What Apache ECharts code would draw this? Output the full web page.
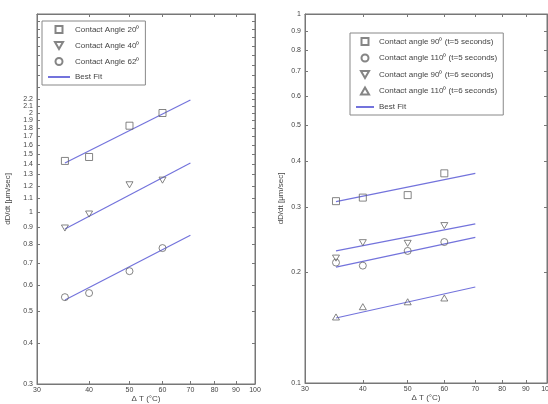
<!DOCTYPE html>
<html>
<head>
<meta charset="utf-8">
<script src="https://cdn.jsdelivr.net/npm/echarts@6/dist/echarts.min.js"></script>
<style>html,body{margin:0;padding:0;background:#fff}#c{width:548px;height:404px}</style>
</head>
<body>
<div id="c"></div>
<script>
// ---- data ----
const deltaT = [35, 40, 50, 60];
const fitT = [35, 70];
const xTickLabels = [30, 40, 50, 60, 70, 80, 90, 100];

// left panel
const leftYLabels = [0.3,0.4,0.5,0.6,0.7,0.8,0.9,1,1.1,1.2,1.3,1.4,1.5,1.6,1.7,1.8,1.9,2,2.1,2.2,2.3];
const leftYTicks = [0.3,0.4,0.5,0.6,0.7,0.8,0.9,1,1.1,1.2,1.3,1.4,1.5,1.6,1.7,1.8,1.9,2,2.1,2.2,2.3,2.4,2.6,2.8,3,3.2,3.4,3.6,3.8,4];
const angle20 = [1.43, 1.47, 1.83, 2.0];
const fit20 = [1.41, 2.19];
const angle40 = [0.894, 0.986, 1.21, 1.25];
const fit40 = [0.888, 1.41];
const angle62 = [0.551, 0.567, 0.661, 0.777];
const fit62 = [0.54, 0.85];

// right panel
const rightYLabels = [0.1,0.2,0.3,0.4,0.5,0.6,0.7,0.8,0.9,1];
const a90t5 = [0.311, 0.318, 0.323, 0.370];
const fit90t5 = [0.310, 0.370];
const a110t5 = [0.212, 0.208, 0.228, 0.241];
const fit110t5 = [0.206, 0.248];
const a90t6 = [0.218, 0.240, 0.239, 0.267];
const fit90t6 = [0.228, 0.270];
const a110t6 = [0.151, 0.161, 0.166, 0.170];
const fit110t6 = [0.150, 0.182];

const leftNames = ['Contact Angle 20⁰', 'Contact Angle 40⁰', 'Contact Angle 62⁰', 'Best Fit'];
const rightNames = ['Contact angle 90⁰ (t=5 seconds)', 'Contact angle 110⁰ (t=5 seconds)', 'Contact angle 90⁰ (t=6 seconds)', 'Contact angle 110⁰ (t=6 seconds)', 'Best Fit'];

// ---- chart ----
const FONT = 'Liberation Sans, Arial, sans-serif';
const TXT = '#444';
const AX = '#777';
const LINE = '#7373dc';
const MK = '#666';
const TRI_DOWN = 'path://M0,0L10,0L5,8.66Z';
const TRI_UP = 'path://M5,0L10,8.66L0,8.66Z';
const SQUARE = 'path://M0,0L10,0L10,10L0,10Z';

function fmt(v) { return String(parseFloat(Number(v).toPrecision(6))); }
function pts(xs, ys) { return xs.map((x, i) => [x, ys[i]]); }

function xAx(grid, pos, show) {
  return {
    type: 'log', logBase: 10, gridIndex: grid, min: 30, max: 100, position: pos,
    name: show ? 'Δ T (°C)' : '', nameLocation: 'middle', nameGap: 11, nameMoveOverlap: false,
    nameTextStyle: { fontSize: 8, color: TXT, fontFamily: FONT, verticalAlign: 'top' },
    axisLine: { show: true, onZero: false, lineStyle: { color: AX } },
    axisTick: { show: true, inside: true, length: 3, customValues: xTickLabels, lineStyle: { color: AX } },
    axisLabel: { show: show, customValues: xTickLabels, formatter: fmt, fontSize: 7, color: TXT, fontFamily: FONT, margin: 3 },
    splitLine: { show: false }, minorTick: { show: false }
  };
}
function yAx(grid, min, max, pos, show, labels, ticks, gap) {
  return {
    type: 'log', logBase: 10, gridIndex: grid, min: min, max: max, position: pos,
    name: show ? 'dD/dt [μm/sec]' : '', nameLocation: 'middle', nameGap: gap || 25, nameMoveOverlap: false,
    nameTextStyle: { fontSize: 8, color: TXT, fontFamily: FONT },
    axisLine: { show: true, onZero: false, lineStyle: { color: AX } },
    axisTick: { show: true, inside: true, length: 3, customValues: ticks, lineStyle: { color: AX } },
    axisLabel: { show: show, customValues: labels, formatter: fmt, fontSize: 7, color: TXT, fontFamily: FONT, margin: 4, hideOverlap: false },
    splitLine: { show: false }, minorTick: { show: false }
  };
}

function scatter(name, xi, yi, data, symbol) {
  return {
    type: 'scatter', name: name, xAxisIndex: xi, yAxisIndex: yi, data: data,
    symbol: symbol, symbolSize: 7, symbolKeepAspect: true,
    itemStyle: { color: 'rgba(255,255,255,0)', borderColor: MK, borderWidth: 1 },
    z: 3
  };
}
function fit(xi, yi, data) {
  return {
    type: 'line', name: 'Best Fit', xAxisIndex: xi, yAxisIndex: yi, data: data,
    showSymbol: false, symbol: 'none', lineStyle: { color: LINE, width: 1.2 }, itemStyle: { color: LINE },
    z: 2
  };
}

function legendData(names) {
  return names.map(n => n === 'Best Fit'
    ? { name: n, itemStyle: { color: 'rgba(0,0,0,0)', borderWidth: 0, opacity: 0 } }
    : { name: n });
}

const legendBase = {
  orient: 'vertical', itemHeight: 7, itemGap: 7,
  textStyle: { fontSize: 8, color: TXT, fontFamily: FONT },
  borderColor: '#888', borderWidth: 1, backgroundColor: '#fff', padding: [4, 6, 4, 5],
  selectedMode: false, symbolKeepAspect: true
};

const option = {
  animation: false,
  backgroundColor: '#fff',
  grid: [
    { left: 37, top: 14, width: 218, height: 370, show: true, borderColor: AX, borderWidth: 1, backgroundColor: '#fff', outerBoundsMode: 'none', containLabel: false },
    { left: 305, top: 14, width: 242, height: 369, show: true, borderColor: AX, borderWidth: 1, backgroundColor: '#fff', outerBoundsMode: 'none', containLabel: false }
  ],
  xAxis: [
    xAx(0, 'bottom', true),
    xAx(0, 'top', false),
    xAx(1, 'bottom', true),
    xAx(1, 'top', false)
  ],
  yAxis: [
    yAx(0, 0.3, 4, 'left', true, leftYLabels, leftYTicks, 25),
    yAx(0, 0.3, 4, 'right', false, leftYLabels, leftYTicks),
    yAx(1, 0.1, 1, 'left', true, rightYLabels, rightYLabels, 20),
    yAx(1, 0.1, 1, 'right', false, rightYLabels, rightYLabels)
  ],
  legend: [
    Object.assign({}, legendBase, { left: 42, top: 21, itemWidth: 22, data: legendData(leftNames) }),
    Object.assign({}, legendBase, { left: 350, top: 33, itemWidth: 18, itemGap: 7.5, data: legendData(rightNames) })
  ],
  series: [
    scatter(leftNames[0], 0, 0, pts(deltaT, angle20), SQUARE),
    scatter(leftNames[1], 0, 0, pts(deltaT, angle40), TRI_DOWN),
    scatter(leftNames[2], 0, 0, pts(deltaT, angle62), 'circle'),
    fit(0, 0, pts(fitT, fit20)),
    fit(0, 0, pts(fitT, fit40)),
    fit(0, 0, pts(fitT, fit62)),
    scatter(rightNames[0], 2, 2, pts(deltaT, a90t5), SQUARE),
    scatter(rightNames[1], 2, 2, pts(deltaT, a110t5), 'circle'),
    scatter(rightNames[2], 2, 2, pts(deltaT, a90t6), TRI_DOWN),
    scatter(rightNames[3], 2, 2, pts(deltaT, a110t6), TRI_UP),
    fit(2, 2, pts(fitT, fit90t5)),
    fit(2, 2, pts(fitT, fit110t5)),
    fit(2, 2, pts(fitT, fit90t6)),
    fit(2, 2, pts(fitT, fit110t6))
  ]
};

const chart = echarts.init(document.getElementById('c'), null, { renderer: 'canvas' });
chart.setOption(option);
</script>
</body>
</html>
